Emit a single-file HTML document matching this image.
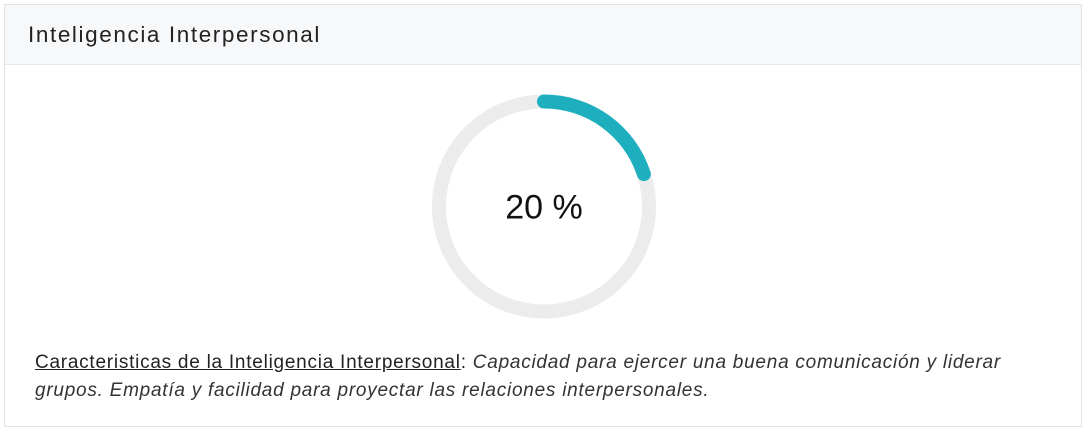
<!DOCTYPE html>
<html><head><meta charset="utf-8"><style>
body{margin:0;width:1086px;height:432px;background:#fff;font-family:"Liberation Sans",sans-serif;overflow:hidden}
.card{position:absolute;left:4px;top:4px;width:1078px;height:423px;border:1px solid #dfe2e6;box-sizing:border-box}
.hdr{height:60px;background:#f7f8fa;border-bottom:1px solid #e6e8eb;box-sizing:border-box}
.hdr span{position:absolute;left:23px;top:17px;font-size:22.5px;letter-spacing:1.6px;color:#222}
.desc{position:absolute;left:30px;top:344px;width:985px;font-size:19px;letter-spacing:0.75px;line-height:28px;color:#222}
.desc u{font-style:normal}
.desc i{color:#333}
svg{position:absolute;left:0;top:0}
</style></head><body>
<div class="card">
<div class="hdr"><span>Inteligencia Interpersonal</span></div>
<div class="desc"><u>Caracteristicas de la Inteligencia Interpersonal</u>: <i>Capacidad para ejercer una buena comunicación y liderar<br>grupos. Empatía y facilidad para proyectar las relaciones interpersonales.</i></div>
</div>
<svg width="1086" height="432" id="chart"></svg>
<script>
const labels=["Inteligencia Interpersonal"];
const values=[20];
const maxValue=[100];
const svg=document.getElementById('chart');
const NS='http://www.w3.org/2000/svg';
const cx=544,cy=206.5,r=105;
const bg=document.createElementNS(NS,'circle');


bg.setAttribute('cx',cx);bg.setAttribute('cy',cy);bg.setAttribute('r',r);
bg.setAttribute('fill','none');bg.setAttribute('stroke','#ececec');bg.setAttribute('stroke-width','14');
svg.appendChild(bg);
const frac=values[0]/maxValue[0];
const a=frac*2*Math.PI;
const x1=cx,y1=cy-r,x2=cx+r*Math.sin(a),y2=cy-r*Math.cos(a);
const arc=document.createElementNS(NS,'path');


arc.setAttribute('d',`M${x1} ${y1} A${r} ${r} 0 ${frac>0.5?1:0} 1 ${x2} ${y2}`);
arc.setAttribute('fill','none');arc.setAttribute('stroke','#1eafbf');arc.setAttribute('stroke-width','14');arc.setAttribute('stroke-linecap','round');
svg.appendChild(arc);
const t=document.createElementNS(NS,'text');


t.setAttribute('x',cx);t.setAttribute('y',cy+12);t.setAttribute('text-anchor','middle');
t.setAttribute('font-size','34');t.setAttribute('font-family','Liberation Sans, sans-serif');t.setAttribute('fill','#111');
t.textContent=values[0]+' %';
svg.appendChild(t);
</script>
</body></html>
